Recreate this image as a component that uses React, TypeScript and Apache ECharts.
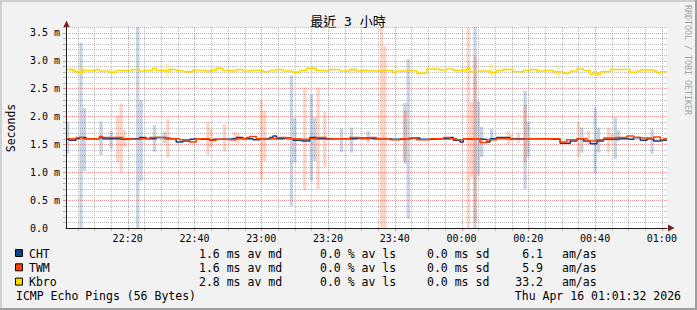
import React, { useEffect, useRef } from 'react';
import * as echarts from 'echarts';

// time axis in minutes after 22:00; graph spans 22:01:32 .. 01:01:32
const T0 = 1 + 32 / 60;
const SPAN = 180;

const xMinorTicks = [5, 10, 15, 25, 30, 35, 45, 50, 55, 65, 70, 75, 85, 90, 95, 105, 110, 115, 125, 130, 135, 145, 150, 155, 165, 170, 175];
const xMajorTicks = [20, 40, 60, 80, 100, 120, 140, 160, 180];
const xTickLabels = ['22:20', '22:40', '23:00', '23:20', '23:40', '00:00', '00:20', '00:40', '01:00'];
const yMinorTicks = [0.1, 0.2, 0.3, 0.4, 0.6, 0.7, 0.8, 0.9, 1.1, 1.2, 1.3, 1.4, 1.6, 1.7, 1.8, 1.9, 2.1, 2.2, 2.3, 2.4, 2.6, 2.7, 2.8, 2.9, 3.1, 3.2, 3.3, 3.4, 3.6];
const yMajorTicks = [0.5, 1.0, 1.5, 2.0, 2.5, 3.0, 3.5];

const seriesNames = ['CHT', 'TWM', 'Kbro'];
const seriesColors = ['#0b4283', '#ff4000', '#ffd700'];
const smokeColors = ['rgba(11,66,131,0.22)', 'rgba(255,64,0,0.22)', 'rgba(255,215,0,0.28)'];

// per-minute median RTT (ms)
const chtMedian = [
  1.59, 1.57, 1.57, 1.60, 1.62, 1.62, 1.60, 1.60, 1.60, 1.60,
  1.62, 1.60, 1.60, 1.60, 1.60, 1.60, 1.59, 1.59, 1.59, 1.60,
  1.60, 1.60, 1.62, 1.62, 1.60, 1.60, 1.60, 1.62, 1.62, 1.62,
  1.60, 1.60, 1.60, 1.54, 1.54, 1.56, 1.56, 1.59, 1.60, 1.60,
  1.59, 1.59, 1.59, 1.57, 1.59, 1.59, 1.59, 1.59, 1.59, 1.60,
  1.60, 1.62, 1.62, 1.60, 1.60, 1.60, 1.58, 1.58, 1.60, 1.60,
  1.60, 1.62, 1.65, 1.60, 1.60, 1.61, 1.61, 1.60, 1.57, 1.57,
  1.56, 1.56, 1.56, 1.62, 1.62, 1.60, 1.60, 1.60, 1.60, 1.60,
  1.60, 1.60, 1.60, 1.60, 1.60, 1.60, 1.60, 1.61, 1.61, 1.61,
  1.61, 1.60, 1.60, 1.60, 1.60, 1.60, 1.60, 1.59, 1.59, 1.59,
  1.59, 1.60, 1.60, 1.61, 1.61, 1.61, 1.59, 1.59, 1.59, 1.59,
  1.59, 1.60, 1.60, 1.60, 1.60, 1.62, 1.57, 1.57, 1.54, 1.60,
  1.59, 1.60, 1.60, 1.60, 1.59, 1.59, 1.54, 1.60, 1.60, 1.62,
  1.62, 1.62, 1.62, 1.60, 1.60, 1.60, 1.60, 1.60, 1.60, 1.60,
  1.60, 1.60, 1.60, 1.60, 1.60, 1.59, 1.59, 1.59, 1.52, 1.52,
  1.52, 1.56, 1.56, 1.60, 1.60, 1.56, 1.56, 1.51, 1.51, 1.56,
  1.56, 1.59, 1.59, 1.59, 1.59, 1.60, 1.60, 1.60, 1.59, 1.59,
  1.62, 1.62, 1.57, 1.57, 1.60, 1.60, 1.56, 1.56, 1.57, 1.57,
];
const twmMedian = [
  1.60, 1.60, 1.60, 1.62, 1.62, 1.60, 1.60, 1.60, 1.60, 1.60,
  1.64, 1.62, 1.62, 1.62, 1.62, 1.62, 1.62, 1.60, 1.60, 1.59,
  1.59, 1.59, 1.60, 1.60, 1.60, 1.62, 1.62, 1.62, 1.62, 1.61,
  1.61, 1.60, 1.60, 1.60, 1.58, 1.58, 1.58, 1.54, 1.54, 1.60,
  1.60, 1.60, 1.60, 1.57, 1.57, 1.59, 1.59, 1.59, 1.58, 1.58,
  1.58, 1.60, 1.60, 1.60, 1.62, 1.64, 1.64, 1.60, 1.60, 1.59,
  1.59, 1.60, 1.60, 1.62, 1.62, 1.62, 1.60, 1.60, 1.60, 1.60,
  1.59, 1.59, 1.60, 1.60, 1.60, 1.62, 1.62, 1.62, 1.59, 1.60,
  1.60, 1.60, 1.60, 1.60, 1.60, 1.62, 1.62, 1.62, 1.60, 1.60,
  1.60, 1.62, 1.62, 1.60, 1.60, 1.60, 1.60, 1.58, 1.58, 1.58,
  1.60, 1.60, 1.61, 1.61, 1.61, 1.58, 1.58, 1.58, 1.58, 1.60,
  1.60, 1.60, 1.60, 1.62, 1.62, 1.60, 1.60, 1.58, 1.58, 1.60,
  1.60, 1.60, 1.60, 1.60, 1.53, 1.53, 1.58, 1.58, 1.58, 1.60,
  1.60, 1.60, 1.60, 1.59, 1.59, 1.59, 1.59, 1.60, 1.60, 1.60,
  1.60, 1.60, 1.60, 1.60, 1.60, 1.60, 1.60, 1.60, 1.54, 1.54,
  1.58, 1.58, 1.58, 1.60, 1.60, 1.60, 1.56, 1.56, 1.56, 1.58,
  1.58, 1.61, 1.61, 1.61, 1.62, 1.62, 1.62, 1.62, 1.65, 1.65,
  1.62, 1.62, 1.61, 1.61, 1.61, 1.60, 1.63, 1.63, 1.58, 1.60,
];
const kbroMedian = [
  2.84, 2.84, 2.81, 2.79, 2.79, 2.82, 2.82, 2.82, 2.82, 2.84,
  2.81, 2.81, 2.81, 2.79, 2.79, 2.82, 2.82, 2.82, 2.82, 2.82,
  2.84, 2.84, 2.81, 2.82, 2.82, 2.82, 2.86, 2.82, 2.82, 2.81,
  2.81, 2.84, 2.84, 2.82, 2.82, 2.80, 2.80, 2.80, 2.83, 2.82,
  2.82, 2.82, 2.80, 2.82, 2.82, 2.86, 2.86, 2.82, 2.82, 2.81,
  2.81, 2.84, 2.84, 2.81, 2.81, 2.82, 2.82, 2.82, 2.82, 2.80,
  2.80, 2.82, 2.82, 2.84, 2.84, 2.81, 2.81, 2.81, 2.79, 2.79,
  2.82, 2.82, 2.86, 2.86, 2.86, 2.82, 2.82, 2.81, 2.81, 2.84,
  2.84, 2.84, 2.81, 2.81, 2.81, 2.84, 2.84, 2.81, 2.82, 2.82,
  2.81, 2.81, 2.81, 2.81, 2.82, 2.82, 2.82, 2.82, 2.79, 2.81,
  2.81, 2.81, 2.82, 2.82, 2.82, 2.77, 2.77, 2.77, 2.85, 2.85,
  2.85, 2.85, 2.83, 2.83, 2.85, 2.85, 2.82, 2.82, 2.82, 2.82,
  2.86, 2.80, 2.80, 2.81, 2.81, 2.81, 2.81, 2.79, 2.79, 2.82,
  2.82, 2.84, 2.84, 2.84, 2.80, 2.80, 2.80, 2.82, 2.82, 2.84,
  2.84, 2.81, 2.81, 2.82, 2.82, 2.82, 2.80, 2.80, 2.80, 2.77,
  2.77, 2.81, 2.81, 2.85, 2.85, 2.82, 2.82, 2.75, 2.80, 2.75,
  2.80, 2.80, 2.80, 2.84, 2.84, 2.84, 2.84, 2.84, 2.84, 2.79,
  2.79, 2.81, 2.83, 2.83, 2.83, 2.83, 2.81, 2.78, 2.80, 2.80,
];

// smoke: [minute index, min ms, max ms]
const chtSmoke = [
  [0, 1.33, 1.90], [4, 0.0, 3.32], [5, 1.02, 2.15], [10, 1.31, 1.91], [13, 1.42, 1.74],
  [21, 0.0, 3.6], [22, 0.84, 2.29], [26, 1.36, 1.84], [29, 1.52, 1.73], [67, 0.40, 2.73],
  [68, 1.17, 1.97], [73, 0.84, 2.39], [74, 1.20, 1.98], [82, 1.36, 1.78], [85, 1.35, 1.80],
  [90, 1.53, 1.74], [101, 1.15, 2.24], [102, 0.17, 3.03], [122, 0.0, 3.6], [123, 0.94, 2.26],
  [124, 1.27, 1.81], [127, 1.56, 1.77], [137, 0.70, 2.46], [138, 1.27, 1.90], [154, 1.35, 1.80],
  [158, 0.97, 2.16], [159, 1.35, 1.80], [164, 1.24, 1.99], [165, 1.55, 1.75], [175, 1.33, 1.78],
];
const twmSmoke = [
  [15, 1.18, 2.02], [16, 1.00, 2.23], [17, 1.45, 1.75], [30, 1.27, 1.95], [42, 1.30, 1.90],
  [43, 1.45, 1.77], [47, 1.36, 1.86], [50, 1.55, 1.72], [51, 1.52, 1.70], [58, 0.88, 2.30],
  [59, 1.20, 2.10], [71, 0.67, 2.52], [75, 0.70, 2.52], [77, 1.09, 2.08], [94, 0.0, 3.6],
  [95, 0.0, 3.26], [101, 1.20, 2.10], [120, 0.0, 3.59], [121, 0.91, 2.26], [122, 0.10, 3.07],
  [132, 1.50, 1.74], [133, 1.55, 1.68], [135, 1.52, 1.70], [137, 1.18, 2.20], [153, 1.27, 1.90],
  [156, 1.50, 1.74], [162, 1.35, 1.80], [163, 1.55, 1.70],
];
const kbroSmoke = [
  [1, 2.80, 2.87], [2, 2.79, 2.86], [3, 2.76, 2.84], [4, 2.74, 2.90], [5, 2.78, 2.86],
  [13, 2.77, 2.84], [14, 2.77, 2.84], [29, 2.78, 2.86], [30, 2.72, 2.95], [31, 2.79, 2.88],
  [36, 2.77, 2.82], [37, 2.77, 2.83], [43, 2.79, 2.86], [44, 2.78, 2.88], [49, 2.78, 2.84],
  [68, 2.76, 2.82], [69, 2.76, 2.82], [72, 2.82, 2.88], [73, 2.80, 2.89], [74, 2.81, 2.87],
  [85, 2.81, 2.87], [86, 2.80, 2.88], [88, 2.79, 2.85], [89, 2.80, 2.85], [105, 2.74, 2.80],
  [106, 2.74, 2.82], [108, 2.80, 2.87], [110, 2.81, 2.87], [116, 2.79, 2.85], [127, 2.72, 2.95],
  [131, 2.80, 2.87], [133, 2.81, 2.87], [141, 2.78, 2.84], [146, 2.74, 2.82], [147, 2.68, 2.92],
  [149, 2.74, 2.80], [159, 2.72, 2.79], [161, 2.76, 2.83], [163, 2.80, 2.87], [172, 2.80, 2.86],
  [174, 2.80, 2.86], [176, 2.78, 2.84],
];

// legend statistics
const avgMedian = ['1.6', '1.6', '2.8'];
const avgLoss = ['0.0', '0.0', '0.0'];
const avgSd = ['0.0', '0.0', '0.0'];
const amAs = ['6.1', '5.9', '33.2'];

const titleText = '最近 3 小時';
const footerLeft = 'ICMP Echo Pings (56 Bytes)';
const footerRight = 'Thu Apr 16 01:01:32 2026';
const watermark = 'RRDTOOL / TOBI OETIKER';

const MONO = '"DejaVu Sans Mono", "Noto Sans CJK TC", monospace';
const GRID_MINOR = 'rgba(143,143,143,0.6)';
const GRID_MAJOR = 'rgba(222,79,79,0.6)';

export default function App() {
  const ref = useRef<HTMLDivElement>(null);
  useEffect(() => {
    if (!ref.current) return;
    const chart = echarts.init(ref.current, undefined, { renderer: 'svg' });

    const vGrid = (color: string) => (params: any, api: any) => {
      const cs = params.coordSys;
      const x = Math.round(api.coord([api.value(0), 0])[0]) + 0.5;
      return {
        type: 'group',
        children: [
          { type: 'line', shape: { x1: x, y1: cs.y, x2: x, y2: cs.y + cs.height }, style: { stroke: color, lineWidth: 1, lineDash: [1, 1] } },
          { type: 'line', shape: { x1: x, y1: cs.y + cs.height, x2: x, y2: cs.y + cs.height + 3 }, style: { stroke: color, lineWidth: 1 } },
        ],
      };
    };
    const hGrid = (color: string) => (params: any, api: any) => {
      const cs = params.coordSys;
      const y = Math.round(api.coord([T0, api.value(1)])[1]) + 0.5;
      return {
        type: 'group',
        children: [
          { type: 'line', shape: { x1: cs.x, y1: y, x2: cs.x + cs.width, y2: y }, style: { stroke: color, lineWidth: 1, lineDash: [1, 1] } },
          { type: 'line', shape: { x1: cs.x - 3, y1: y, x2: cs.x, y2: y }, style: { stroke: color, lineWidth: 1 } },
        ],
      };
    };
    const smokeRender = (fill: string) => (params: any, api: any) => {
      const a = api.coord([api.value(0), api.value(2)]);
      const b = api.coord([api.value(0) + 1, api.value(1)]);
      return { type: 'rect', shape: { x: a[0], y: a[1], width: b[0] - a[0], height: b[1] - a[1] }, style: { fill } };
    };

    const medians = [chtMedian, twmMedian, kbroMedian];
    const smokes = [chtSmoke, twmSmoke, kbroSmoke];

    const series: any[] = [
      { type: 'custom', z: 1, silent: true, renderItem: vGrid(GRID_MINOR), encode: { x: 0, y: 1 }, data: xMinorTicks.map((v) => [v, 0]) },
      { type: 'custom', z: 1, silent: true, renderItem: hGrid(GRID_MINOR), encode: { x: 0, y: 1 }, data: yMinorTicks.map((v) => [T0, v]) },
      { type: 'custom', z: 1, silent: true, renderItem: vGrid(GRID_MAJOR), encode: { x: 0, y: 1 }, data: xMajorTicks.map((v) => [v, 0]) },
      { type: 'custom', z: 1, silent: true, renderItem: hGrid(GRID_MAJOR), encode: { x: 0, y: 1 }, data: yMajorTicks.map((v) => [T0, v]) },
    ];
    smokes.forEach((s, k) => {
      series.push({
        type: 'custom', z: 2, silent: true, renderItem: smokeRender(smokeColors[k]),
        encode: { x: 0, y: 1 },
        data: s.map(([i, lo, hi]) => [T0 + i, lo, hi]),
      });
    });
    medians.forEach((m, k) => {
      const d = m.map((v, i) => [T0 + i, v]);
      d.push([T0 + SPAN, m[m.length - 1]]);
      series.push({
        type: 'line', name: seriesNames[k], z: 3 + k, step: 'end', showSymbol: false, symbol: 'none',
        lineStyle: { color: seriesColors[k], width: 1.5 }, data: d, silent: true,
      });
    });

    const graphic: any[] = [
      { type: 'rect', shape: { x: 0, y: 0, width: 697, height: 2 }, style: { fill: '#cfcfcf' } },
      { type: 'rect', shape: { x: 0, y: 0, width: 2, height: 310 }, style: { fill: '#cfcfcf' } },
      { type: 'rect', shape: { x: 0, y: 308, width: 697, height: 2 }, style: { fill: '#9e9e9e' } },
      { type: 'rect', shape: { x: 695, y: 0, width: 2, height: 310 }, style: { fill: '#9e9e9e' } },
      { type: 'text', x: 348, y: 21, style: { text: titleText, font: `13px ${MONO}`, fill: '#000', textAlign: 'center', verticalAlign: 'middle' } },
      { type: 'text', x: 688, y: 5, rotation: -Math.PI / 2, style: { text: watermark, font: `8.3px ${MONO}`, fill: '#a4a4a4', textAlign: 'left', verticalAlign: 'middle' } },
      { type: 'text', x: 11, y: 128, rotation: Math.PI / 2, style: { text: 'Seconds', font: `11.5px ${MONO}`, fill: '#000', textAlign: 'center', verticalAlign: 'middle' } },
      { type: 'polygon', z: 20, shape: { points: [[63.5, 27], [69.5, 27], [66.5, 20.5]] }, style: { fill: '#801f1f' } },
      { type: 'polygon', z: 20, shape: { points: [[668, 224.5], [668, 231.5], [674.5, 228]] }, style: { fill: '#801f1f' } },
      { type: 'text', x: 16, y: 296, style: { text: footerLeft, font: `11.5px ${MONO}`, fill: '#000', textAlign: 'left', verticalAlign: 'middle' } },
      { type: 'text', x: 681, y: 296, style: { text: footerRight, font: `11.5px ${MONO}`, fill: '#000', textAlign: 'right', verticalAlign: 'middle' } },
    ];
    seriesNames.forEach((name, k) => {
      const cy = 253.5 + k * 14.3;
      const t = (text: string, x: number, align = 'left') => ({
        type: 'text', x, y: cy, style: { text, font: `11.5px ${MONO}`, fill: '#000', textAlign: align, verticalAlign: 'middle' },
      });
      graphic.push({ type: 'rect', shape: { x: 15.5, y: cy - 4, width: 7, height: 7 }, style: { fill: seriesColors[k], stroke: '#000', lineWidth: 1 } });
      graphic.push(t(name, 29));
      graphic.push(t(`${avgMedian[k]} ms av md`, 199));
      graphic.push(t(`${avgLoss[k]} % av ls`, 320));
      graphic.push(t(`${avgSd[k]} ms sd`, 427));
      graphic.push(t(amAs[k], 543, 'right'));
      graphic.push(t('am/as', 562));
    });

    chart.setOption({
      animation: false,
      backgroundColor: '#f2f2f2',
      grid: { left: 66, right: 30, top: 27, bottom: 82, show: true, backgroundColor: '#ffffff', borderWidth: 0 },
      xAxis: {
        type: 'value', min: T0, max: T0 + SPAN, z: 10,
        axisLine: { show: true, lineStyle: { color: '#1f1f1f', width: 1 } },
        axisTick: { show: false },
        splitLine: { show: false },
        axisLabel: {
          customValues: xMajorTicks,
          margin: 5,
          color: '#000',
          fontSize: 10,
          fontFamily: MONO,
          formatter: (v: number) => {
            const idx = xMajorTicks.findIndex((t) => Math.abs(t - v) < 1e-6);
            return idx >= 0 ? xTickLabels[idx] : '';
          },
        },
      },
      yAxis: {
        type: 'value', min: 0, max: 3.6, interval: 0.5, z: 10,
        axisLine: { show: true, lineStyle: { color: '#1f1f1f', width: 1 } },
        axisTick: { show: false },
        splitLine: { show: false },
        axisLabel: {
          align: 'left',
          margin: 36,
          color: '#000',
          fontSize: 10,
          fontFamily: MONO,
          formatter: (v: number) => {
            if (Math.abs(v) < 1e-9) return '0.0';
            const ok = Math.abs(v * 2 - Math.round(v * 2)) < 1e-6 && v <= 3.5 + 1e-9;
            return ok ? `${v.toFixed(1)} m` : '';
          },
        },
      },
      graphic,
      series,
    });
    return () => chart.dispose();
  }, []);
  return <div ref={ref} style={{ position: 'absolute', left: 0, top: 0, width: 697, height: 310 }} />;
}
